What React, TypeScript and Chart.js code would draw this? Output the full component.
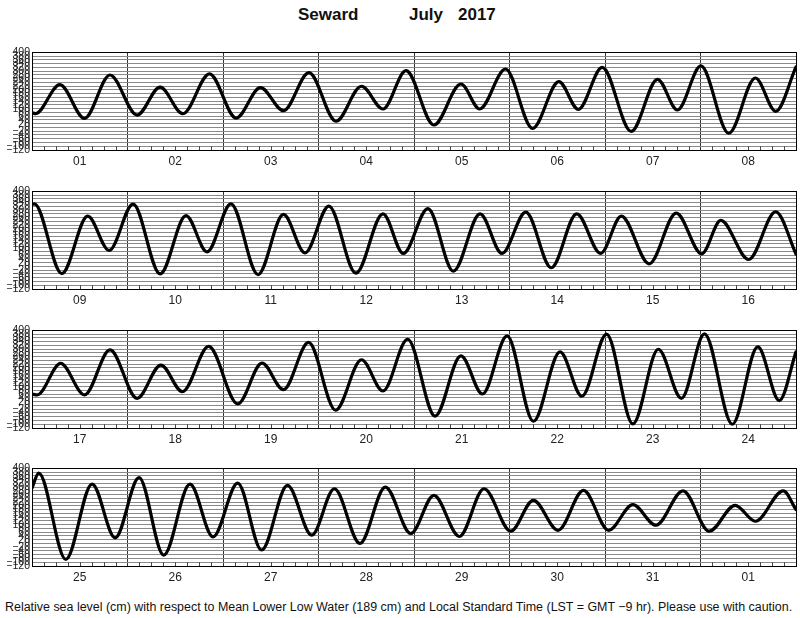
import React, { useEffect, useRef } from "react";
import { Chart, registerables } from "chart.js";

Chart.register(...registerables);

// ---------- data (hours from the start of each 8-day panel, sea level in cm) ----------
const P1_DAYS = ["01", "02", "03", "04", "05", "06", "07", "08"];
const P1_HOURS = [0, 0.9, 7.0, 13.2, 19.6, 26.4, 32.2, 37.9, 44.6, 51.3, 57.4, 63.2, 69.6, 76.4, 82.8, 88.2, 94.0, 101.0, 107.8, 112.5, 119.0, 125.8, 132.4, 137.3, 143.3, 150.6, 157.2, 162.2, 168.1, 175.1, 181.8, 186.9, 192];
const P1_LEVELS = [78, 74, 228, 48, 279, 66, 214, 73, 285, 50, 212, 89, 292, 33, 219, 98, 302, 13, 231, 98, 311, -5, 244, 96, 320, -21, 256, 93, 327, -31, 263, 86, 322];

const P2_DAYS = ["09", "10", "11", "12", "13", "14", "15", "16"];
const P2_HOURS = [0, 0.6, 7.5, 14.0, 19.4, 25.4, 32.2, 38.7, 44.0, 50.0, 56.8, 63.2, 68.6, 74.6, 81.4, 88.2, 93.3, 99.5, 105.9, 112.6, 118.1, 124.1, 130.5, 136.9, 142.9, 148.1, 155.1, 161.9, 168.3, 173.1, 180.1, 186.9, 192];
const P2_LEVELS = [330, 333, -38, 268, 85, 332, -40, 270, 78, 333, -43, 277, 72, 321, -36, 280, 69, 308, -25, 280, 69, 289, -7, 280, 69, 268, 14, 284, 67, 245, 37, 291, 66];

const P3_DAYS = ["17", "18", "19", "20", "21", "22", "23", "24"];
const P3_HOURS = [0, 1.3, 7.2, 13.2, 19.6, 26.4, 32.4, 37.8, 44.4, 51.7, 57.8, 63.2, 69.5, 76.3, 82.8, 88.2, 94.4, 101.3, 107.8, 113.2, 119.4, 126.0, 132.7, 138.2, 144.4, 151.0, 157.4, 163.2, 169.0, 176.0, 182.4, 187.8, 192];
const P3_LEVELS = [61, 56, 224, 56, 296, 38, 215, 73, 314, 8, 225, 84, 335, -25, 243, 77, 352, -57, 264, 61, 370, -84, 285, 49, 379, -98, 299, 38, 381, -100, 312, 26, 285];

const P4_DAYS = ["25", "26", "27", "28", "29", "30", "31", "01"];
const P4_HOURS = [0, 1.7, 8.5, 15.1, 20.9, 26.9, 33.1, 39.7, 45.5, 51.7, 57.7, 64.2, 70.3, 76.0, 82.4, 88.8, 95.2, 101.0, 107.4, 113.6, 120.3, 126.0, 132.2, 138.6, 144.9, 151.0, 156.8, 163.6, 170.2, 176.7, 181.8, 188.8, 192];
const P4_LEVELS = [295, 374, -85, 316, 30, 350, -62, 316, 35, 321, -35, 309, 44, 291, 0, 300, 53, 256, 37, 291, 65, 229, 70, 282, 70, 206, 97, 280, 65, 203, 118, 280, 180];

const Y_TICKS = [400, 380, 360, 340, 320, 300, 280, 260, 240, 220, 200, 180, 160, 140, 120, 100, 80, 60, 40, 20, 0, -20, -40, -60, -80, -100, -120];
const TITLE_STATION = "Seward";
const TITLE_MONTH = "July";
const TITLE_YEAR = "2017";
const FOOTER = "Relative sea level (cm) with respect to Mean Lower Low Water (189 cm) and Local Standard Time (LST = GMT \u22129 hr). Please use with caution.";

const HOURS_PER_DAY = 24;
const DAYS_PER_PANEL = 8;
const TICK_STEP_HOURS = 3;

const FONT = "'Liberation Sans', Arial, Helvetica, sans-serif";

const framePlugin = {
  id: "frame",
  beforeDatasetsDraw(chart: any) {
    const { ctx, chartArea, scales } = chart;
    const xs = scales.x;
    const ys = scales.y;
    ctx.save();
    ctx.strokeStyle = "#444";
    ctx.lineWidth = 1;
    const yb = ys.getPixelForValue(Y_TICKS[Y_TICKS.length - 1]);
    const yt = ys.getPixelForValue(Y_TICKS[Y_TICKS.length - 2]);
    ctx.beginPath();
    for (let h = TICK_STEP_HOURS; h < HOURS_PER_DAY * DAYS_PER_PANEL; h += TICK_STEP_HOURS) {
      if (h % HOURS_PER_DAY === 0) continue;
      const x = Math.round(xs.getPixelForValue(h)) + 0.5;
      ctx.moveTo(x, yb);
      ctx.lineTo(x, yt);
    }
    ctx.stroke();
    ctx.strokeStyle = "#000";
    ctx.strokeRect(
      Math.round(chartArea.left) + 0.5,
      Math.round(chartArea.top) + 0.5,
      Math.round(chartArea.right - chartArea.left),
      Math.round(chartArea.bottom - chartArea.top)
    );
    ctx.restore();
  },
};

type PanelProps = { hours: number[]; levels: number[]; days: string[]; top: number };

function Panel({ hours, levels, days, top }: PanelProps) {
  const ref = useRef<HTMLCanvasElement>(null);
  useEffect(() => {
    const maxH = HOURS_PER_DAY * DAYS_PER_PANEL;
    const chart = new Chart(ref.current as HTMLCanvasElement, {
      type: "line",
      data: {
        datasets: [
          {
            data: hours.map((h, i) => ({ x: h, y: levels[i] })),
            borderColor: "#000",
            borderWidth: 3.2,
            pointRadius: 0,
            fill: false,
            cubicInterpolationMode: "monotone",
            borderJoinStyle: "round",
            borderCapStyle: "round",
          } as any,
        ],
      },
      options: {
        animation: false,
        responsive: false,
        maintainAspectRatio: false,
        events: [],
        layout: { padding: { top: 6, right: 4, left: 0, bottom: 0 } },
        plugins: { legend: { display: false }, tooltip: { enabled: false } },
        scales: {
          x: {
            type: "linear",
            min: 0,
            max: maxH,
            afterBuildTicks: (s: any) => {
              const t: any[] = [];
              for (let h = 0; h <= maxH; h += TICK_STEP_HOURS) t.push({ value: h });
              s.ticks = t;
            },
            afterFit: (s: any) => {
              s.height = 20;
            },
            ticks: {
              autoSkip: false,
              maxRotation: 0,
              minRotation: 0,
              padding: 4,
              color: "#222",
              font: { family: FONT, size: 12 },
              callback: (v: any) =>
                v % HOURS_PER_DAY === HOURS_PER_DAY / 2 ? days[(v - HOURS_PER_DAY / 2) / HOURS_PER_DAY] : "",
            },
            grid: {
              drawTicks: false,
              lineWidth: 1,
              color: (c: any) =>
                c.tick && c.tick.value % HOURS_PER_DAY === 0 ? "#333" : "rgba(0,0,0,0)",
            },
            border: { display: true, color: "#000" },
          },
          y: {
            type: "linear",
            min: Y_TICKS[Y_TICKS.length - 1],
            max: Y_TICKS[0],
            afterBuildTicks: (s: any) => {
              s.ticks = Y_TICKS.map((v) => ({ value: v }));
            },
            afterFit: (s: any) => {
              s.width = 32;
            },
            ticks: {
              autoSkip: false,
              padding: 2,
              color: "#222",
              font: { family: FONT, size: 10.5, lineHeight: 1 },
              callback: (v: any) => (v < 0 ? "\u2212" + Math.abs(v) : String(v)),
            },
            grid: { drawTicks: false, lineWidth: 1, color: "#8a8a8a" },
            border: { display: true, color: "#000" },
          },
        },
      } as any,
      plugins: [framePlugin],
    });
    return () => chart.destroy();
  }, [hours, levels, days]);
  return (
    <canvas
      ref={ref}
      width={800}
      height={125}
      style={{ position: "absolute", left: 0, top: top - 6, width: 800, height: 125 }}
    />
  );
}

const textBase: React.CSSProperties = {
  position: "absolute",
  whiteSpace: "nowrap",
  fontFamily: FONT,
  color: "#111",
};

export default function App() {
  useEffect(() => {
    document.body.style.margin = "0";
  }, []);
  return (
    <div style={{ position: "absolute", left: 0, top: 0, width: 800, height: 618, background: "#fff", overflow: "hidden" }}>
      <div style={{ ...textBase, left: 298, top: 6, fontSize: 17, lineHeight: "17px", fontWeight: "bold" }}>{TITLE_STATION}</div>
      <div style={{ ...textBase, left: 409, top: 6, fontSize: 17, lineHeight: "17px", fontWeight: "bold" }}>{TITLE_MONTH}</div>
      <div style={{ ...textBase, left: 458, top: 6, fontSize: 17, lineHeight: "17px", fontWeight: "bold" }}>{TITLE_YEAR}</div>
      <Panel hours={P1_HOURS} levels={P1_LEVELS} days={P1_DAYS} top={51} />
      <Panel hours={P2_HOURS} levels={P2_LEVELS} days={P2_DAYS} top={190} />
      <Panel hours={P3_HOURS} levels={P3_LEVELS} days={P3_DAYS} top={329} />
      <Panel hours={P4_HOURS} levels={P4_LEVELS} days={P4_DAYS} top={467} />
      <div style={{ ...textBase, left: 5, top: 600, fontSize: 12.45, lineHeight: "14px" }}>{FOOTER}</div>
    </div>
  );
}
